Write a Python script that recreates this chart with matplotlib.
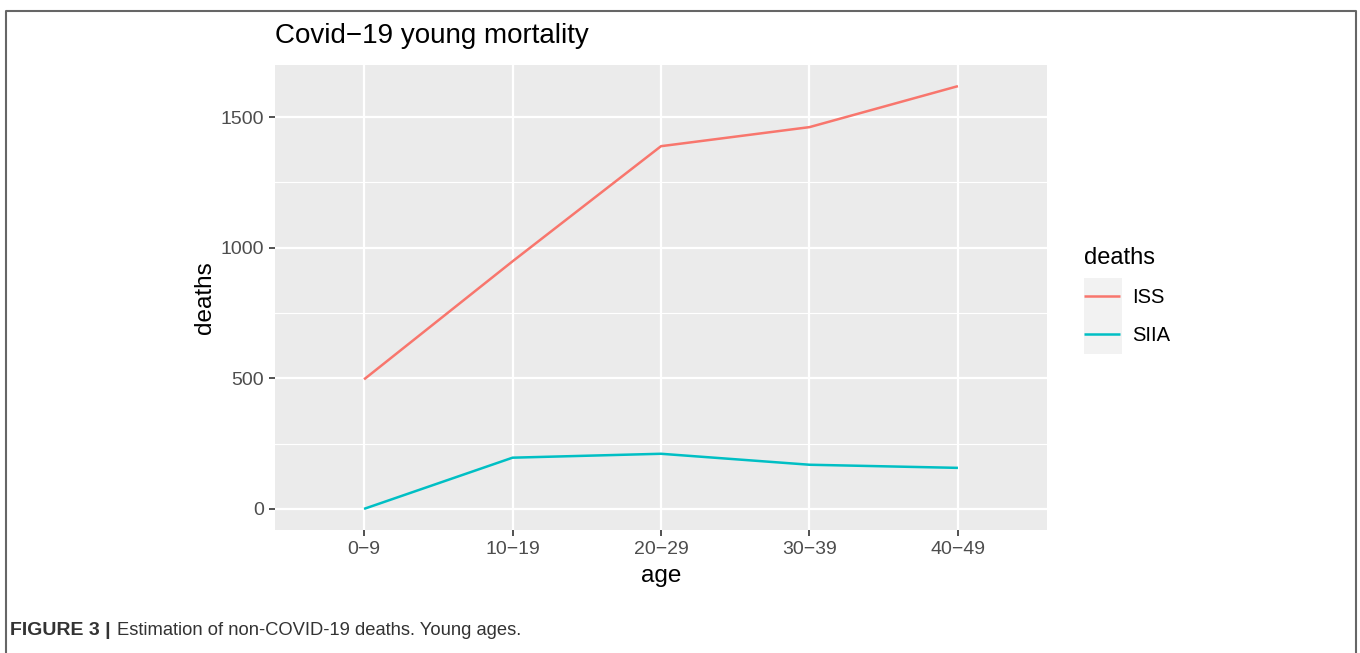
import matplotlib.pyplot as plt
from matplotlib.patches import Rectangle
import numpy as np

plt.rcParams['font.family'] = ['Liberation Sans', 'DejaVu Sans']

ages = ["0\u22129", "10\u221219", "20\u221229", "30\u221239", "40\u221249"]
iss = [496, 948, 1389, 1462, 1619]
siia = [0, 196, 211, 169, 157]
series_names = ["ISS", "SIIA"]
series_colors = ["#F8766D", "#00BFC4"]

fig = plt.figure(figsize=(13.6, 6.53), dpi=100)
ax = fig.add_axes([275 / 1360, 1 - 530 / 653, 772 / 1360, 465 / 653])
ax.set_facecolor("#EBEBEB")

x = np.arange(1, len(ages) + 1)
for vals, name, col in zip([iss, siia], series_names, series_colors):
    ax.plot(x, vals, color=col, lw=1.8, label=name, solid_capstyle="butt")

ymax = max(max(iss), max(siia))
ax.set_xlim(0.4, len(ages) + 0.6)
ax.set_ylim(-0.05 * ymax, 1.05 * ymax)
ax.set_xticks(x)
ax.set_xticklabels(ages)
ax.set_yticks([0, 500, 1000, 1500])
ax.set_yticks([250, 750, 1250], minor=True)
ax.grid(True, which="major", color="white", lw=1.6)
ax.grid(True, which="minor", axis="y", color="white", lw=0.8)
ax.set_axisbelow(True)
for s in ax.spines.values():
    s.set_visible(False)
ax.tick_params(axis="both", which="major", length=4, width=1.2, color="#333333",
               labelcolor="#4D4D4D", labelsize=14, pad=4)
ax.tick_params(axis="y", which="minor", length=0)

ax.set_xlabel("age", fontsize=17.5, labelpad=5)
ax.set_ylabel("deaths", fontsize=17.5, labelpad=3)
ax.set_title("Covid\u221219 young mortality", fontsize=20, loc="left", pad=16)

leg = ax.legend(title="deaths", loc="upper left",
                bbox_to_anchor=(1084 / 1360, 1 - 247 / 653),
                bbox_transform=fig.transFigure, frameon=False,
                fontsize=14.5, title_fontsize=17, handlelength=1.8,
                handletextpad=0.6, labelspacing=0.95, borderaxespad=0,
                borderpad=0)
leg._legend_box.align = "left"
fig.patches.append(Rectangle((1084 / 1360, 1 - 354 / 653), 38 / 1360, 76 / 653,
                             transform=fig.transFigure, facecolor="#F2F2F2",
                             edgecolor="none", zorder=-1))

# outer frame and caption
fig.add_artist(plt.Line2D([6 / 1360, 6 / 1360, 1356 / 1360, 1356 / 1360],
                          [0, 1 - 11 / 653, 1 - 11 / 653, 0],
                          transform=fig.transFigure, color="#666666", lw=1.5))
fig.text(10 / 1360, 1 - 635 / 653, "FIGURE 3 |", fontsize=14, fontweight="bold",
         color="#333333", va="baseline")
fig.text(117 / 1360, 1 - 635 / 653, "Estimation of non-COVID-19 deaths. Young ages.",
         fontsize=13.2, color="#333333", va="baseline")

fig.savefig("out.png", dpi=100)
